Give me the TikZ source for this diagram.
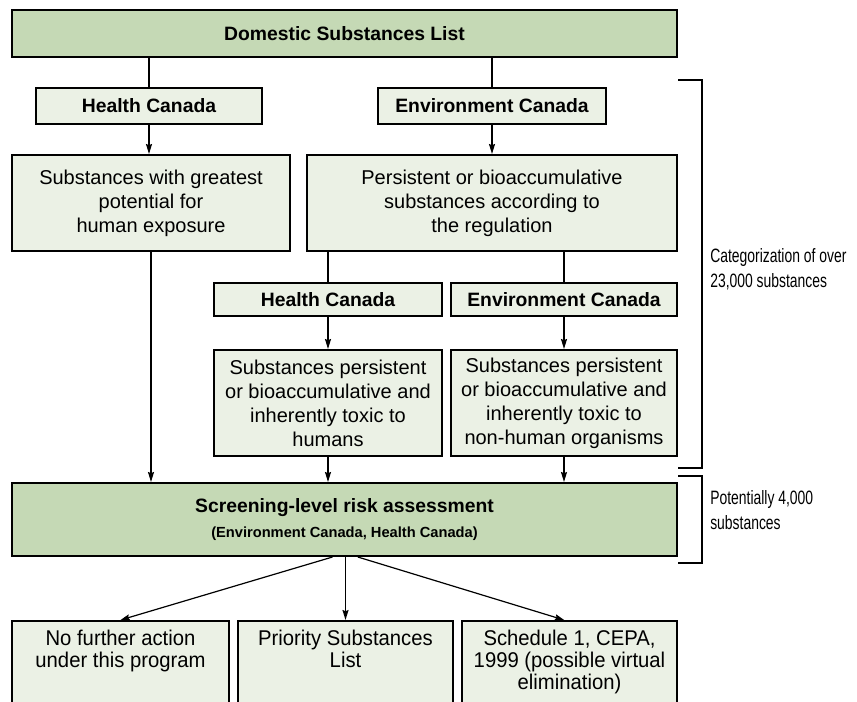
\documentclass[tikz,border=0pt]{standalone}
\usepackage{fontspec}
\setmainfont{Liberation Sans}
\newfontfamily\narrowfont[FakeStretch=0.72]{Liberation Sans}
\newfontfamily\outfont[FakeStretch=0.95]{Liberation Sans}
\usetikzlibrary{arrows.meta}
\definecolor{darkgreen}{HTML}{C5D9B5}
\definecolor{palegreen}{HTML}{EBF1E5}
\newcommand{\outlines}[1]{\parbox[t][70pt][t]{155pt}{\centering #1}}

\begin{document}
\begin{tikzpicture}[x=0.75pt,y=-0.75pt,
    box/.style={draw,line width=1.5pt,fill=palegreen,align=center,inner sep=0pt,
      font=\fontsize{15}{18}\selectfont},
    mainbox/.style={box,fill=darkgreen,font=\fontsize{14.5}{18}\selectfont\bfseries},
    headbox/.style={box,font=\fontsize{14.5}{18}\selectfont\bfseries},
    outbox/.style={box,anchor=north,inner xsep=0pt,inner ysep=7pt,
      font=\outfont\fontsize{16}{16.5}\selectfont},
    link/.style={line width=1.1pt},
    arr/.style={link,-{Stealth[length=7.5pt,width=4.5pt,inset=1pt]}},
    fork/.style={line width=0.9pt,-{Stealth[length=7pt,width=4.5pt,inset=1pt]}},
    brace/.style={line width=1.4pt},
    note/.style={anchor=west,align=left,inner sep=0pt,
      font=\narrowfont\fontsize{14.5}{18.75}\selectfont}]
  \useasboundingbox (0,0) rectangle (857,701);

  \node[mainbox,minimum width=498.75pt,minimum height=35.25pt] (dsl) at (344.5,33.5)
    {Domestic Substances List};
  \node[headbox,minimum width=169.5pt,minimum height=27pt] (hcA) at (149,106) {Health Canada};
  \node[headbox,minimum width=171pt,minimum height=27pt] (ecA) at (492,106) {Environment Canada};
  \node[box,minimum width=208.5pt,minimum height=72pt] (great) at (151,203)
    {Substances with greatest\\potential for\\human exposure};
  \node[box,minimum width=277.5pt,minimum height=72pt] (pers) at (492,203)
    {Persistent or bioaccumulative\\substances according to\\the regulation};
  \node[headbox,minimum width=171pt,minimum height=24.75pt] (hcB) at (328,299.5) {Health Canada};
  \node[headbox,minimum width=169.5pt,minimum height=24.75pt] (ecB) at (564,299.5) {Environment Canada};
  \node[box,minimum width=171pt,minimum height=79.5pt] (hum) at (328,403)
    {Substances persistent\\or bioaccumulative and\\inherently toxic to\\humans};
  \node[box,minimum width=169.5pt,minimum height=79.5pt] (non) at (564,403)
    {Substances persistent\\or bioaccumulative and\\inherently toxic to\\non-human organisms};
  \node[mainbox,minimum width=498.75pt,minimum height=54.75pt] (scr) at (344.5,519.5)
    {Screening-level risk assessment\\[1pt]{\fontsize{11}{13}\selectfont (Environment Canada, Health Canada)}};
  \node[outbox,minimum width=162.75pt] (outA) at (120.5,620)
    {\outlines{No further action\\under this program}};
  \node[outbox,minimum width=161.25pt] (outB) at (345.5,620)
    {\outlines{Priority Substances\\List}};
  \node[outbox,minimum width=161.25pt] (outC) at (569.5,620)
    {\outlines{Schedule 1, CEPA,\\1999 (possible virtual\\elimination)}};

  \begin{scope}[link]
    \draw (hcA.north |- dsl.south) to (hcA.north);
    \draw (ecA.north |- dsl.south) to (ecA.north);
    \draw (hcB.north |- pers.south) to (hcB.north);
    \draw (ecB.north |- pers.south) to (ecB.north);
  \end{scope}
  \begin{scope}[arr]
    \draw (hcA.south) to (hcA.south |- great.north);
    \draw (ecA.south) to (ecA.south |- pers.north);
    \draw (hcB.south) to (hcB.south |- hum.north);
    \draw (ecB.south) to (ecB.south |- non.north);
    \draw (great.south) to (great.south |- scr.north);
    \draw (hum.south) to (hum.south |- scr.north);
    \draw (non.south) to (non.south |- scr.north);
    \draw ([xshift=0.75pt]scr.south) to (outB.north);
  \end{scope}
  \begin{scope}[fork]
    \draw ([xshift=-9pt]scr.south) to (outA.north);
    \draw ([xshift=10pt]scr.south) to ([xshift=-4pt]outC.north);
  \end{scope}

  \draw[brace] (678,80) -- (702,80) -- (702,468) -- (678,468);
  \draw[brace] (678,476) -- (702,476) -- (702,563) -- (678,563);
  \node[note] (catnote) at (710,269.5) {Categorization of over\\23,000 substances};
  \node[note] (potnote) at (710,510.5) {Potentially 4,000\\substances};
\end{tikzpicture}
\end{document}
